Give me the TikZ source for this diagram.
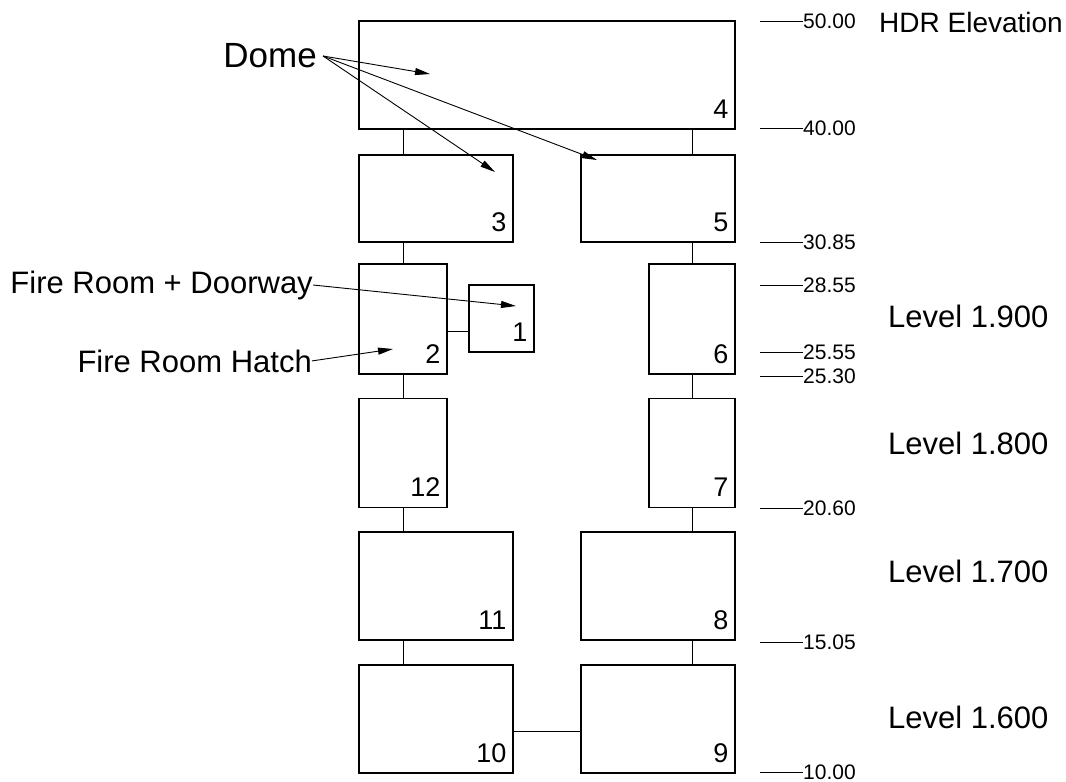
\documentclass[tikz,border=0pt]{standalone}
\usepackage{fontspec}
\setmainfont{Liberation Sans}
\usetikzlibrary{arrows.meta}

\begin{document}
\begin{tikzpicture}[x=1pt, y=-1pt]
    \useasboundingbox (0,0) rectangle (1066,782);

    \begin{scope}[every node/.style={draw=black,rectangle,line width=1.1pt,inner sep=0pt}]
        \node[minimum width=376pt, minimum height=108pt] (b4) at (547, 75) {};  % dome

        \node[minimum width=154pt, minimum height=87pt] (b3) at (436, 198.5) {};
        \node[minimum width=154pt, minimum height=87pt] (b5) at (658, 198.5) {};

        \node[minimum width=88pt, minimum height=110pt] (b2) at (403, 319) {};  % fire room
        \node[minimum width=65pt, minimum height=67pt] (b1) at (501.5, 318.5) {};
        \node[minimum width=86pt, minimum height=110pt] (b6) at (692, 319) {};

        \node[minimum width=88pt, minimum height=109pt] (b12) at (403, 453) {};
        \node[minimum width=86pt, minimum height=109pt] (b7) at (692, 453) {};

        \node[minimum width=154pt, minimum height=108pt] (b11) at (436, 586) {};
        \node[minimum width=154pt, minimum height=108pt] (b8) at (658, 586) {};

        \node[minimum width=154pt, minimum height=108pt] (b10) at (436, 719) {};
        \node[minimum width=154pt, minimum height=108pt] (b9) at (658, 719) {};
    \end{scope}

    \foreach \b in {1,...,12}
        \node[anchor=south east, inner sep=0pt, font=\fontsize{27}{27}\selectfont] (n\b) at ([xshift=-7pt, yshift=11pt]b\b.south east) {\b};

    \begin{scope}[every edge/.style={draw=black,line width=1pt}]
        \path (b4.south -| b2) edge (b3.north -| b2);
        \path (b4.south -| b6) edge (b5.north -| b6);
        \path (b3.south -| b2) edge (b2.north);
        \path (b5.south -| b6) edge (b6.north);

        \path ([yshift=-12pt]b2.east) edge ([yshift=-12pt]b2.east -| b1.west);

        \path (b2.south) edge (b12.north);
        \path (b6.south) edge (b7.north);
        \path (b12.south) edge (b11.north -| b12);
        \path (b7.south) edge (b8.north -| b7);
        \path (b11.south -| b12) edge (b10.north -| b12);
        \path (b8.south -| b7) edge (b9.north -| b7);

        \path ([yshift=-12.5pt]b10.east) edge ([yshift=-12.5pt]b10.east -| b9.west);
    \end{scope}

    % callouts
    \node[anchor=east, inner sep=0pt, font=\fontsize{35}{35}\selectfont] (dome) at (317, 56) {Dome};
    \node[anchor=base east, inner sep=0pt, font=\fontsize{31}{31}\selectfont] (fdoor) at (313, 293) {Fire Room + Doorway};
    \node[anchor=base east, inner sep=0pt, font=\fontsize{31}{31}\selectfont] (fhatch) at (312, 372) {Fire Room Hatch};

    \coordinate (d4) at (430, 74);
    \coordinate (d3) at (495, 172);
    \coordinate (d5) at (597, 160);
    \coordinate (d1) at (516, 306);
    \coordinate (d2) at (393, 349);

    \begin{scope}[every edge/.style={draw=black,line width=0.9pt,-{Triangle[length=15pt,width=7pt]}}]
        \path ([xshift=6pt]dome.east) edge (d4);
        \path ([xshift=6pt]dome.east) edge (d3);
        \path ([xshift=6pt]dome.east) edge (d5);
        \path (fdoor.east) edge (d1);
        \path (fhatch.east) edge (d2);
    \end{scope}

    % elevation scale
    \node[anchor=west, inner sep=0pt, font=\fontsize{28}{28}\selectfont] (hdr) at (879, 22) {HDR Elevation};

    \foreach \y/\v [count=\i] in {21/50.00, 128/40.00, 242/30.85, 285/28.55, 352/25.55, 376/25.30, 508/20.60, 642/15.05, 772/10.00} {
        \node[anchor=west, inner sep=0pt, font=\fontsize{21}{21}\selectfont] (tk\i) at (803, \y) {\v};
        \draw[line width=1pt] (tk\i.west) -- ++(-43, 0);
    }

    \node[anchor=west, inner sep=0pt, font=\fontsize{31}{31}\selectfont] (lv19) at (888, 316) {Level 1.900};
    \node[anchor=west, inner sep=0pt, font=\fontsize{31}{31}\selectfont] (lv18) at (888, 443) {Level 1.800};
    \node[anchor=west, inner sep=0pt, font=\fontsize{31}{31}\selectfont] (lv17) at (888, 571) {Level 1.700};
    \node[anchor=west, inner sep=0pt, font=\fontsize{31}{31}\selectfont] (lv16) at (888, 717) {Level 1.600};
\end{tikzpicture}
\end{document}
